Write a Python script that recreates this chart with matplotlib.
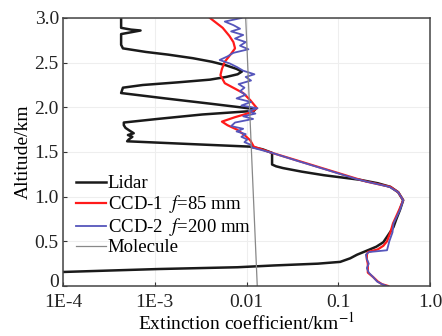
import numpy as np
import matplotlib.pyplot as plt
import matplotlib.transforms as mtransforms

# Lidar (black) profile, read top to bottom
lidar_alt = [3.0, 2.89, 2.87, 2.86, 2.84, 2.82, 2.70, 2.66, 2.62, 2.59, 2.55, 2.51, 2.47,
             2.43, 2.40, 2.37, 2.34, 2.31, 2.28, 2.25, 2.22, 2.16, 2.10, 2.04, 1.98,
             1.96, 1.92, 1.87, 1.83, 1.80, 1.77, 1.74, 1.71, 1.69, 1.67, 1.64, 1.62,
             1.59, 1.56, 1.53, 1.49, 1.42, 1.36, 1.34, 1.32, 1.28, 1.24, 1.19, 1.15,
             1.11, 1.05, 0.96, 0.85, 0.75, 0.66, 0.57, 0.49, 0.44, 0.40, 0.35, 0.31,
             0.27, 0.25, 0.23, 0.21, 0.19, 0.157, 0.13]
lidar_val = [4.3e-4, 4.3e-4, 5.5e-4, 7.0e-4, 5.5e-4, 4.3e-4, 4.3e-4, 4.5e-4, 8e-4,
             1.4e-3, 2.6e-3, 4.2e-3, 6.0e-3, 7.8e-3, 8.9e-3, 8.0e-3, 6.0e-3, 4.0e-3,
             1.8e-3, 7.4e-4, 4.5e-4, 4.3e-4, 1.3e-3, 4.1e-3, 1.25e-2, 1.2e-2, 3.3e-3,
             1.07e-3, 4.6e-4, 4.6e-4, 4.8e-4, 5.3e-4, 5.9e-4, 5.1e-4, 5.7e-4, 5.2e-4,
             5.0e-4, 2.3e-3, 1.1e-2, 1.5e-2, 1.9e-2, 1.9e-2, 1.9e-2, 2.1e-2, 2.5e-2,
             4.0e-2, 7.0e-2, 0.17, 0.27, 0.37, 0.45, 0.51, 0.47, 0.43, 0.40, 0.35,
             0.31, 0.26, 0.21, 0.16, 0.135, 0.105, 0.06, 0.02, 8e-3, 1.1e-3, 1e-4,
             1.5e-5]

# CCD-1 f=85 mm (red)
ccd1_alt = [3.0, 2.89, 2.8, 2.73, 2.66, 2.6, 2.51, 2.43, 2.36, 2.27, 2.16, 2.08, 1.99,
            1.94, 1.89, 1.84, 1.8, 1.75, 1.69, 1.63, 1.56, 1.49, 1.4, 1.3, 1.2, 1.17,
            1.11, 1.05, 0.96, 0.85, 0.7, 0.6, 0.5, 0.45, 0.41, 0.38, 0.35, 0.3, 0.25,
            0.2, 0.15, 0.1, 0.05, 0.02, 0.0]
ccd1_val = [0.004, 0.0055, 0.0065, 0.0072, 0.0075, 0.0068, 0.0058, 0.0054, 0.0052,
            0.0058, 0.0092, 0.011, 0.013, 0.011, 0.0075, 0.0054, 0.0062, 0.0079,
            0.0095, 0.011, 0.012, 0.019, 0.037, 0.077, 0.16, 0.2, 0.37, 0.45, 0.51,
            0.46, 0.395, 0.37, 0.34, 0.31, 0.27, 0.21, 0.205, 0.205, 0.21, 0.21, 0.21,
            0.24, 0.27, 0.3, 0.35]

# CCD-2 f=200 mm (blue)
ccd2_alt = [3.0, 2.96, 2.92, 2.88, 2.85, 2.81, 2.77, 2.73, 2.69, 2.65, 2.61, 2.57,
            2.53, 2.49, 2.45, 2.41, 2.37, 2.34, 2.3, 2.26, 2.22, 2.18, 2.14, 2.1,
            2.06, 2.02, 1.99, 1.96, 1.93, 1.9, 1.87, 1.83, 1.79, 1.76, 1.73, 1.7,
            1.67, 1.64, 1.61, 1.58, 1.55, 1.49, 1.4, 1.3, 1.2, 1.17, 1.11, 1.05, 0.96,
            0.85, 0.7, 0.6, 0.5, 0.45, 0.40, 0.38, 0.35, 0.3, 0.25, 0.2, 0.15, 0.1,
            0.05, 0.02, 0.0]
ccd2_val = [0.0088, 0.0058, 0.0072, 0.0085, 0.0068, 0.0092, 0.0075, 0.0098, 0.0085,
            0.0105, 0.0072, 0.0062, 0.0051, 0.0066, 0.0079, 0.0092, 0.0122, 0.0098,
            0.0112, 0.0082, 0.0095, 0.0085, 0.0098, 0.0078, 0.0112, 0.0088, 0.0132,
            0.0105, 0.0125, 0.0092, 0.0118, 0.0075, 0.0068, 0.0092, 0.0078, 0.0098,
            0.0088, 0.0102, 0.0095, 0.0112, 0.0115, 0.019, 0.036, 0.075, 0.155, 0.2,
            0.36, 0.45, 0.51, 0.47, 0.40, 0.39, 0.36, 0.35, 0.34, 0.215, 0.2, 0.205,
            0.215, 0.205, 0.215, 0.24, 0.265, 0.3, 0.34]

# Molecular extinction (grey)
mol_alt = [3.0, 0.0]
mol_val = [0.0098, 0.0131]

xticks = [1e-4, 1e-3, 1e-2, 1e-1, 1.0]
xticklabels = ['1E-4', '1E-3', '0.01', '0.1', '1.0']
yticks = [0, 0.5, 1.0, 1.5, 2.0, 2.5, 3.0]
yticklabels = ['0', '0.5', '1.0', '1.5', '2.0', '2.5', '3.0']

plt.rcParams['font.family'] = ['Liberation Serif', 'DejaVu Serif']
plt.rcParams['mathtext.fontset'] = 'stix'

fig = plt.figure(figsize=(4.42, 3.36), dpi=100)
ax = fig.add_axes([63 / 442, 1 - 286 / 336, 367 / 442, 268 / 336])

ax.plot(lidar_val, lidar_alt, color='#1a1a1a', lw=1.8, label='Lidar')
ax.plot(ccd1_val, ccd1_alt, color='#ff1a1a', lw=1.6, label='CCD-1  $f$=85 mm')
ax.plot(ccd2_val, ccd2_alt, color='#5555bb', lw=1.3, label='CCD-2  $f$=200 mm')
ax.plot(mol_val, mol_alt, color='#888888', lw=0.9, label='Molecule')

ax.set_xscale('log')
ax.set_xlim(1e-4, 1.0)
ax.set_ylim(0, 3.0)
ax.set_xticks(xticks)
ax.set_xticklabels(xticklabels)
ax.minorticks_off()
ax.set_yticks(yticks)
ax.set_yticklabels(yticklabels)
ax.tick_params(direction='in', length=3, labelsize=14, width=0.8, colors='#333333')
ax.tick_params(axis='x', pad=6)
ax.tick_params(axis='y', pad=3)
ax.tick_params(labelcolor='#222222')
ax.grid(True, color='#eeeeee', lw=0.8)
for s in ax.spines.values():
    s.set_color('#444444')
    s.set_linewidth(1.1)

# nudge the "0" label up so it clears "1E-4"
lab0 = ax.get_yticklabels()[0]
lab0.set_transform(lab0.get_transform() + mtransforms.ScaledTranslation(0, 4 / 72, fig.dpi_scale_trans))

ax.set_xlabel('Extinction coefficient/km$^{-1}$', fontsize=14, labelpad=0)
ax.set_ylabel('Altitude/km', fontsize=14, labelpad=2)

ax.legend(loc='upper left', bbox_to_anchor=(0.035, 0.413), frameon=False, fontsize=13.5,
          handlelength=1.6, handletextpad=0.1, labelspacing=0.05, borderaxespad=0,
          borderpad=0)

fig.savefig('out.png', dpi=100)
